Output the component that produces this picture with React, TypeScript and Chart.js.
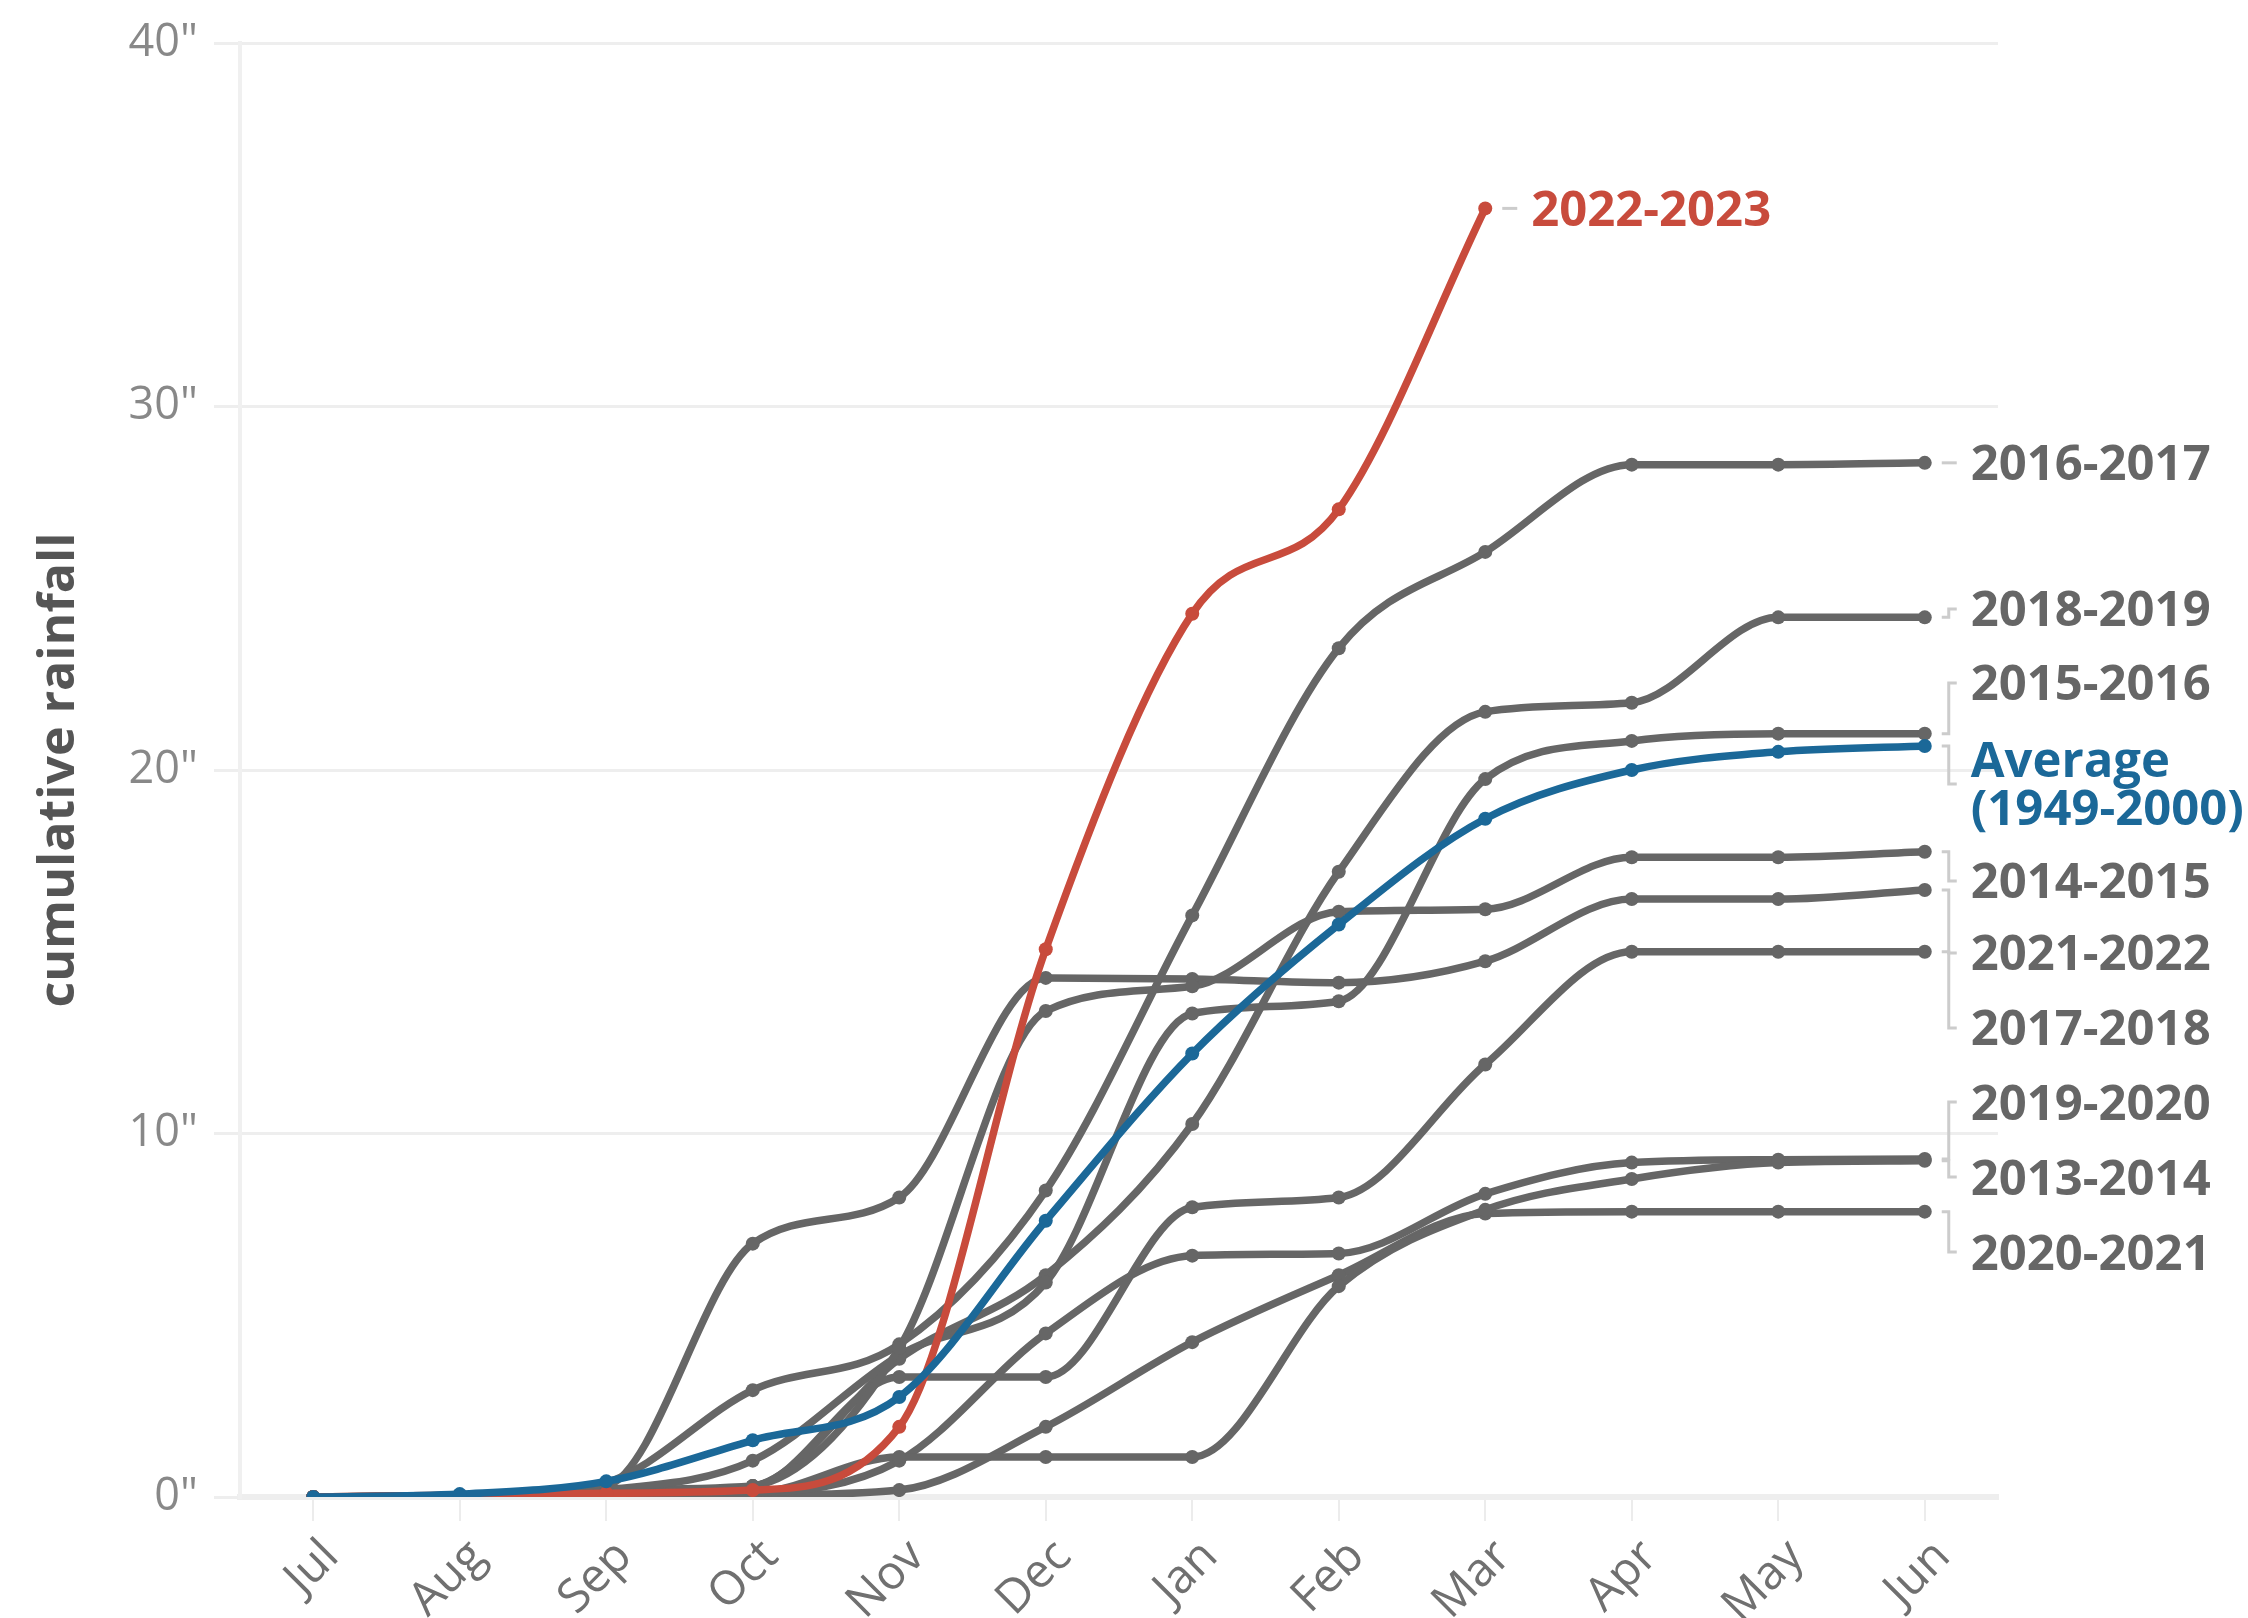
import { useEffect, useRef } from "react";
import { Chart, registerables } from "chart.js";

Chart.register(...registerables);

// ---------- data ----------
const months = ["Jul", "Aug", "Sep", "Oct", "Nov", "Dec", "Jan", "Feb", "Mar", "Apr", "May", "Jun"];
const yTickValues = [0, 10, 20, 30, 40];

const s2013_2014 = [0, 0.02, 0.05, 0.1, 1.1, 1.1, 1.1, 5.8, 7.9, 8.75, 9.2, 9.25];
const s2014_2015 = [0, 0.02, 0.1, 0.3, 4.1, 13.37, 14.05, 16.1, 16.17, 17.6, 17.6, 17.75];
const s2015_2016 = [0, 0.05, 0.2, 1.0, 3.9, 5.9, 13.3, 13.64, 19.75, 20.8, 21.0, 21.0];
const s2016_2017 = [0, 0.02, 0.4, 2.94, 4.2, 8.43, 16.0, 23.35, 26.0, 28.4, 28.4, 28.45];
const s2017_2018 = [0, 0.0, 0.2, 0.3, 3.3, 3.3, 7.97, 8.24, 11.9, 15.0, 15.0, 15.0];
const s2018_2019 = [0, 0.05, 0.1, 0.3, 3.8, 6.1, 10.26, 17.2, 21.6, 21.85, 24.2, 24.2];
const s2019_2020 = [0, 0.02, 0.05, 0.1, 1.0, 4.5, 6.64, 6.7, 8.34, 9.2, 9.28, 9.3];
const s2020_2021 = [0, 0.0, 0.0, 0.05, 0.19, 1.93, 4.26, 6.1, 7.8, 7.85, 7.85, 7.85];
const s2021_2022 = [0, 0.0, 0.3, 6.97, 8.24, 14.28, 14.25, 14.15, 14.74, 16.45, 16.45, 16.7];
const s2022_2023 = [0, 0.05, 0.1, 0.19, 1.93, 15.07, 24.3, 27.17, 35.45, null, null, null];
const average = [0, 0.08, 0.43, 1.56, 2.75, 7.6, 12.2, 15.75, 18.66, 20.0, 20.5, 20.66];

const graySeries: { name: string; values: (number | null)[] }[] = [
  { name: "2013-2014", values: s2013_2014 },
  { name: "2014-2015", values: s2014_2015 },
  { name: "2015-2016", values: s2015_2016 },
  { name: "2016-2017", values: s2016_2017 },
  { name: "2017-2018", values: s2017_2018 },
  { name: "2018-2019", values: s2018_2019 },
  { name: "2019-2020", values: s2019_2020 },
  { name: "2020-2021", values: s2020_2021 },
  { name: "2021-2022", values: s2021_2022 },
];

// ---------- styles ----------
const GRAY = "#666666";
const RED = "#c84b3c";
const BLUE = "#1b6898";
const LEADER = "#cccccc";
const FONT = '"Open Sans", "Noto Sans", sans-serif';
const LABEL_SIZE = 49;
const LINE_W = 7.5;
const PT_R = 7;
const SINGLE_H = 75;
const LINE_GAP = 48;
// manual nudges (px) for the end-label layout
const labelNudgePx: Record<string, number> = {
  "2018-2019": 26,
  "2015-2016": 25,
  "Average": 27,
  "2014-2015": 25,
  "2021-2022": 22,
  "2017-2018": 22,
};

function lastIndex(arr: (number | null)[]) {
  for (let i = arr.length - 1; i >= 0; i--) if (arr[i] !== null && arr[i] !== undefined) return i;
  return -1;
}

type Lab = { key: string; lines: string[]; color: string; endX: number; endY: number; h: number; y: number };

function placeLabels(labs: Lab[]) {
  const items = [...labs].sort((a, b) => a.endY - b.endY);
  let clusters: Lab[][] = items.map((l) => [l]);
  const layout = (c: Lab[]) => {
    const rel: number[] = [0];
    for (let k = 1; k < c.length; k++) rel.push(rel[k - 1] + (c[k - 1].h + c[k].h) / 2);
    let off = 0;
    c.forEach((l, k) => (off += l.endY - rel[k]));
    off /= c.length;
    c.forEach((l, k) => (l.y = off + rel[k]));
    return { top: c[0].y - c[0].h / 2, bottom: c[c.length - 1].y + c[c.length - 1].h / 2 };
  };
  let merged = true;
  while (merged) {
    merged = false;
    for (let i = 1; i < clusters.length; i++) {
      const a = layout(clusters[i - 1]);
      const b = layout(clusters[i]);
      if (a.bottom > b.top) {
        clusters[i - 1] = clusters[i - 1].concat(clusters[i]);
        clusters.splice(i, 1);
        merged = true;
        break;
      }
    }
  }
  clusters.forEach((c) => layout(c));
  items.forEach((l) => (l.y += labelNudgePx[l.key] || 0));
}

const endLabels = {
  id: "endLabels",
  afterDraw(chart: any) {
    const ctx = chart.ctx as CanvasRenderingContext2D;
    const xs = chart.scales.x;
    const ys = chart.scales.y;
    const labs: Lab[] = [];
    const mk = (key: string, lines: string[], color: string, vals: (number | null)[]) => {
      const i = lastIndex(vals);
      return { key, lines, color, endX: xs.getPixelForValue(i), endY: ys.getPixelForValue(vals[i] as number), h: SINGLE_H + (lines.length - 1) * LINE_GAP, y: 0 };
    };
    graySeries.forEach((s) => labs.push(mk(s.name, [s.name], GRAY, s.values)));
    labs.push(mk("Average", ["Average", "(1949-2000)"], BLUE, average));
    placeLabels(labs);
    const red = mk("2022-2023", ["2022-2023"], RED, s2022_2023);
    red.y = red.endY;
    labs.push(red);

    ctx.save();
    // leaders
    ctx.strokeStyle = LEADER;
    ctx.lineWidth = 3;
    labs.forEach((l) => {
      const x0 = l.endX + 17, xm = l.endX + 24, x1 = l.endX + 32;
      ctx.beginPath();
      ctx.moveTo(x0, l.endY);
      ctx.lineTo(xm, l.endY);
      ctx.lineTo(xm, l.y);
      ctx.lineTo(x1, l.y);
      ctx.stroke();
    });
    // texts
    ctx.font = `bold ${LABEL_SIZE}px ${FONT}`;
    ctx.textAlign = "left";
    ctx.textBaseline = "alphabetic";
    labs.forEach((l) => {
      ctx.fillStyle = l.color;
      const n = l.lines.length;
      l.lines.forEach((t, k) => {
        const cy = l.y - ((n - 1) * LINE_GAP) / 2 + k * LINE_GAP;
        ctx.fillText(t, l.endX + 46, cy + LABEL_SIZE * 0.357);
      });
    });
    ctx.restore();
  },
};

export default function App() {
  const ref = useRef<HTMLCanvasElement>(null);
  useEffect(() => {
    document.body.style.margin = "0";
    const canvas = ref.current!;
    const ds = (label: string, data: (number | null)[], color: string, order: number) => ({
      label,
      data,
      borderColor: color,
      backgroundColor: color,
      pointBackgroundColor: color,
      pointBorderColor: color,
      borderWidth: LINE_W,
      pointRadius: PT_R,
      pointBorderWidth: 0,
      cubicInterpolationMode: "monotone" as const,
      tension: 0.4,
      spanGaps: false,
      order,
    });
    const datasets = [
      ds("Average (1949-2000)", average, BLUE, 0),
      ds("2022-2023", s2022_2023, RED, 1),
      ...graySeries.map((s) => ds(s.name, s.values, GRAY, 2)),
    ];
    const chart = new Chart(canvas, {
      type: "line",
      data: { labels: months, datasets },
      options: {
        responsive: false,
        animation: false,
        devicePixelRatio: 1,
        layout: { padding: { left: 0, top: 41, right: 250, bottom: 0 } },
        plugins: { legend: { display: false }, tooltip: { enabled: false } },
        scales: {
          x: {
            offset: true,
            grid: { drawOnChartArea: false, drawTicks: true, tickLength: 24, color: "#ececec", lineWidth: 2 },
            border: { display: true, color: "#eeeeee", width: 6 },
            ticks: {
              minRotation: 45,
              maxRotation: 45,
              autoSkip: false,
              padding: 8,
              labelOffset: 18,
              color: "#707070",
              font: { family: FONT, size: 47 },
            },
            afterFit: (s: any) => {
              s.height = 121;
            },
          },
          y: {
            min: 0,
            max: 40,
            afterBuildTicks: (s: any) => {
              s.ticks = yTickValues.map((v) => ({ value: v }));
            },
            ticks: {
              padding: 16,
              color: "#888888",
              font: { family: FONT, size: 45 },
              callback: (v: any) => `${v}"`,
            },
            grid: { color: "#eeeeee", lineWidth: 3, tickLength: 26 },
            border: { display: true, color: "#f0f0f0", width: 4 },
            title: {
              display: true,
              text: "cumulative rainfall",
              color: "#555555",
              font: { family: FONT, size: 50, weight: "bold" },
              padding: { top: 30, bottom: 0 },
            },
            afterFit: (s: any) => {
              s.width = 240;
            },
          },
        },
      },
      plugins: [endLabels],
    } as any);
    return () => chart.destroy();
  }, []);
  return <canvas ref={ref} width={2248} height={1618} style={{ display: "block", width: "2248px", height: "1618px" }} />;
}
